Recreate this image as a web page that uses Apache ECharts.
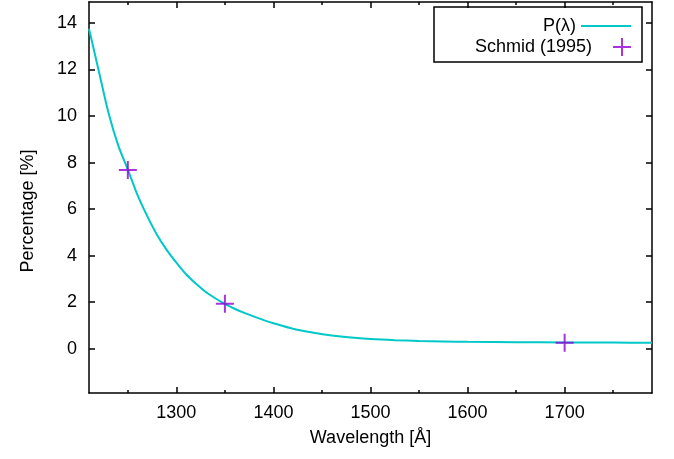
<!DOCTYPE html>
<html>
<head>
<meta charset="utf-8">
<script src="https://cdn.jsdelivr.net/npm/echarts@6/dist/echarts.min.js"></script>
<style>html,body{margin:0;padding:0;background:#fff}#c{width:674px;height:459px}</style>
</head>
<body>
<div id="c"></div>
<script>
// Curve P(λ)
const lambda = [1210, 1220, 1230, 1240, 1250, 1260, 1270, 1280, 1290, 1300, 1310, 1320, 1330, 1340, 1350, 1360, 1370, 1380, 1390, 1400, 1420, 1440, 1460, 1480, 1500, 1525, 1550, 1575, 1600, 1650, 1700, 1750, 1790];
const percent = [13.75, 11.95, 10.15, 8.75, 7.7, 6.6, 5.7, 4.9, 4.25, 3.7, 3.2, 2.8, 2.45, 2.17, 1.93, 1.72, 1.54, 1.38, 1.23, 1.1, 0.86, 0.7, 0.57, 0.48, 0.42, 0.37, 0.335, 0.315, 0.30, 0.285, 0.27, 0.265, 0.26];
// Schmid (1995) points
const schmidX = [1250, 1350, 1700];
const schmidY = [7.68, 1.93, 0.26];
// Tick labels
const xTicks = [1300, 1400, 1500, 1600, 1700];
const xMinorTicks = [1250, 1350, 1450, 1550, 1650, 1750];
const yTicks = [0, 2, 4, 6, 8, 10, 12, 14];
const seriesNames = ['P(λ)', 'Schmid (1995)'];

const FONT = 'Liberation Sans, Arial, sans-serif';
const LINE_COLOR = '#00c8c8';
const PT_COLOR = '#9400d3';
const PLUS = 'path://M8,0H10V8H18V10H10V18H8V10H0V8H8Z';
const X_MIN = 1210, X_MAX = 1790, Y_MIN = -1.9, Y_MAX = 14.9;

function xAx(pos, ticks, len, labels, showLine) {
  return {
    type: 'value', position: pos, min: X_MIN, max: X_MAX,
    splitLine: {show: false},
    axisLine: {show: showLine, onZero: false, lineStyle: {color: '#000', width: 1.5}},
    axisTick: {show: true, inside: true, length: len, customValues: ticks, lineStyle: {color: '#000', width: 1.5}},
    axisLabel: labels ? {show: true, customValues: ticks, margin: 11, fontSize: 18, color: '#000', fontFamily: FONT, formatter: v => String(v)} : {show: false}
  };
}
function yAx(pos, labels) {
  return {
    type: 'value', position: pos, min: Y_MIN, max: Y_MAX,
    splitLine: {show: false},
    axisLine: {show: true, onZero: false, lineStyle: {color: '#000', width: 1.5}},
    axisTick: {show: true, inside: true, length: 6, customValues: yTicks, lineStyle: {color: '#000', width: 1.5}},
    axisLabel: labels ? {show: true, customValues: yTicks, margin: 12, fontSize: 18, color: '#000', fontFamily: FONT, formatter: v => String(v)} : {show: false}
  };
}

const chart = echarts.init(document.getElementById('c'), null, {renderer: 'canvas'});
chart.setOption({
  animation: false,
  backgroundColor: '#fff',
  textStyle: {fontFamily: FONT},
  grid: {left: 89, right: 22, top: 2, bottom: 66, containLabel: false},
  xAxis: [
    xAx('bottom', xTicks, 6, true, true),
    xAx('bottom', xMinorTicks, 3, false, false),
    xAx('top', xTicks, 6, false, true),
    xAx('top', xMinorTicks, 3, false, false)
  ],
  yAxis: [yAx('left', true), yAx('right', false)],
  legend: [
    {
      data: [{name: seriesNames[0], icon: 'path://M0,0H50V2H0Z'}],
      orient: 'vertical', right: 43, top: 17, padding: 0, align: 'right',
      itemWidth: 50, itemHeight: 18, itemGap: 13,
      textStyle: {fontSize: 18, color: '#000', fontFamily: FONT}
    },
    {
      data: [{name: seriesNames[1], icon: PLUS}],
      orient: 'vertical', right: 43, top: 38, padding: 0, align: 'right',
      itemWidth: 50, itemHeight: 18, itemGap: 13,
      textStyle: {fontSize: 18, color: '#000', fontFamily: FONT}
    }
  ],
  graphic: [
    {type: 'rect', shape: {x: 434, y: 7, width: 208, height: 55}, style: {fill: 'none', stroke: '#000', lineWidth: 1.5}, z: 10},
    {type: 'text', x: 28, y: 211, rotation: Math.PI / 2, style: {text: 'Percentage [%]', fontSize: 18, fill: '#000', fontFamily: FONT, align: 'center', verticalAlign: 'middle'}},
    {type: 'text', x: 370.5, y: 438.5, style: {text: 'Wavelength [Å]', fontSize: 18, fill: '#000', fontFamily: FONT, align: 'center', verticalAlign: 'middle'}}
  ],
  series: [
    {
      name: seriesNames[0], type: 'line', xAxisIndex: 0, yAxisIndex: 0,
      data: lambda.map((x, i) => [x, percent[i]]),
      showSymbol: false, symbol: 'none', smooth: 0.3,
      color: LINE_COLOR,
      lineStyle: {color: LINE_COLOR, width: 2},
      clip: true
    },
    {
      name: seriesNames[1], type: 'scatter', xAxisIndex: 0, yAxisIndex: 0,
      data: schmidX.map((x, i) => [x, schmidY[i]]),
      symbol: PLUS, symbolSize: 18, symbolKeepAspect: true,
      color: PT_COLOR,
      itemStyle: {color: PT_COLOR},
      z: 5
    }
  ]
});
</script>
</body>
</html>
